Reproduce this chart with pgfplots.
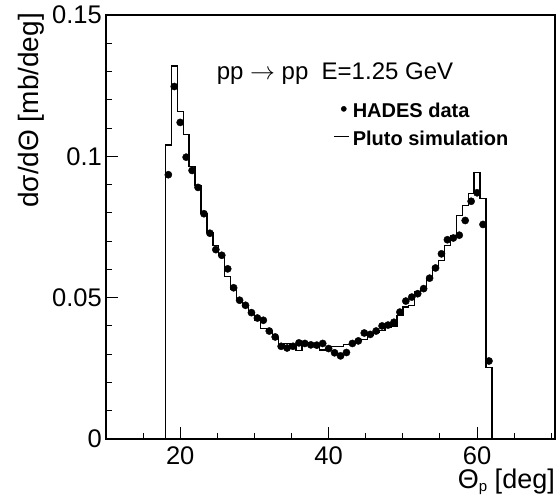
\documentclass[border=0pt]{standalone}
\usepackage{fontspec}
\setmainfont{Liberation Sans}
\usepackage{pgfplots}
\pgfplotsset{compat=1.18}
\begin{document}
\begin{tikzpicture}
\begin{axis}[
    name=ax,
    scale only axis, width=449pt, height=424pt,
    xmin=10, xmax=70.5, ymin=0, ymax=0.15,
    axis line style={line width=1.3pt},
    tick align=inside, xtick pos=bottom, ytick pos=left,
    xtick={20,40,60}, xticklabels={20,40,60},
    minor xtick={15,25,30,35,45,50,55,65,70},
    ytick={0,0.05,0.1,0.15}, yticklabels={0,0.05,0.1,0.15},
    minor ytick={0.01,0.02,0.03,0.04,0.06,0.07,0.08,0.09,0.11,0.12,0.13,0.14},
    major tick length=12pt, minor tick length=6pt,
    every tick/.style={black, line width=1pt},
    tick label style={font=\fontsize{25.5}{29}\selectfont, inner sep=0pt},
    xticklabel style={yshift=-7pt},
    yticklabel style={xshift=-4pt},
    xlabel={Θ{\fontsize{15}{17}\selectfont\raisebox{-3pt}{p}} [deg]},
    xlabel style={at={(axis description cs:1,-0.1179)}, anchor=base east,
        inner sep=0pt, font=\fontsize{27}{31}\selectfont},
    ylabel={dσ/dΘ [mb/deg]},
    ylabel style={at={(axis description cs:-0.1514,1.005)}, anchor=base east,
        inner sep=0pt, font=\fontsize{28}{32}\selectfont},
    legend cell align=left,
    legend style={at={(axis cs:40.6,0.1204)}, anchor=north west, draw=none,
        fill=none, inner sep=0pt, row sep=7pt,
        font=\fontsize{20}{24}\selectfont\bfseries,
        nodes={inner sep=1pt}},
    reverse legend,
]
% Pluto simulation, bins of 0.8 deg (left edges)
\addplot[const plot, black, line width=1.3pt,
    legend image code/.code={\path[draw=none, fill=none] (0pt,-4pt) rectangle (18pt,12pt);
        \draw[black, line width=1pt] (0pt,2pt) -- (15pt,2pt);}]
coordinates {
(10,0) (18.0,0.1040) (18.8,0.1320) (19.6,0.1158) (20.4,0.1077) (21.2,0.0964)
(22.0,0.0897) (22.8,0.0798) (23.6,0.0731) (24.4,0.0685) (25.2,0.0650)
(26.0,0.0575) (26.8,0.0530) (27.6,0.0490) (28.4,0.0470) (29.2,0.0445)
(30.0,0.0420) (30.8,0.0392) (31.6,0.0385) (32.4,0.0358) (33.2,0.0335)
(34.0,0.0338) (34.8,0.0333) (35.6,0.0312) (36.4,0.0335) (37.2,0.0335)
(38.0,0.0330) (38.8,0.0315) (39.6,0.0318) (40.4,0.0326) (41.2,0.0326)
(42.0,0.0335) (42.8,0.0338) (43.6,0.0350) (44.4,0.0353) (45.2,0.0365)
(46.0,0.0379) (46.8,0.0385) (47.6,0.0395) (48.4,0.0400) (49.2,0.0437)
(50.0,0.0467) (50.8,0.0473) (51.6,0.0520) (52.4,0.0532) (53.2,0.0567)
(54.0,0.0608) (54.8,0.0632) (55.6,0.0685) (56.4,0.0720) (57.2,0.0790)
(58.0,0.0826) (58.8,0.0869) (59.6,0.0943) (60.4,0.0850) (61.2,0.0253)
(62.0,0) (70.5,0)
};
\addlegendentry{Pluto simulation}
% HADES data, bin centres
\addplot[only marks, mark=*, mark size=3.6pt, black,
    legend image code/.code={\path[draw=none, fill=none] (0pt,-4pt) rectangle (18pt,12pt);
        \fill[black] (10pt,2pt) circle (2.6pt);}]
coordinates {
(18.4,0.0935) (19.2,0.1247) (20.0,0.1120) (20.8,0.0997) (21.6,0.0950)
(22.4,0.0890) (23.2,0.0797) (24.0,0.0728) (24.8,0.0670) (25.6,0.0650)
(26.4,0.0602) (27.2,0.0535) (28.0,0.0491) (28.8,0.0473) (29.6,0.0447)
(30.4,0.0428) (31.2,0.0420) (32.0,0.0382) (32.8,0.0361) (33.6,0.0328)
(34.4,0.0322) (35.2,0.0328) (36.0,0.0340) (36.8,0.0338) (37.6,0.0333)
(38.4,0.0332) (39.2,0.0338) (40.0,0.0320) (40.8,0.0305) (41.6,0.0294)
(42.4,0.0306) (43.2,0.0338) (44.0,0.0347) (44.8,0.0375) (45.6,0.0370)
(46.4,0.0382) (47.2,0.0400) (48.0,0.0403) (48.8,0.0413) (49.6,0.0449)
(50.4,0.0488) (51.2,0.0502) (52.0,0.0514) (52.8,0.0532) (53.6,0.0569)
(54.4,0.0605) (55.2,0.0655) (56.0,0.0705) (56.8,0.0711) (57.6,0.0721)
(58.4,0.0773) (59.2,0.0841) (60.0,0.0871) (60.8,0.0759) (61.6,0.0276)
};
\addlegendentry{HADES data}
\node[font=\fontsize{24}{28}\selectfont, anchor=base, inner sep=0pt]
    at (axis description cs:0.51,0.847) {pp $\rightarrow$ pp\ \ E=1.25 GeV};
\end{axis}
\pgfresetboundingbox
\path[use as bounding box] ([shift={(-106pt,-57pt)}]ax.south west) rectangle ++(558pt,496pt);
\end{tikzpicture}
\end{document}
